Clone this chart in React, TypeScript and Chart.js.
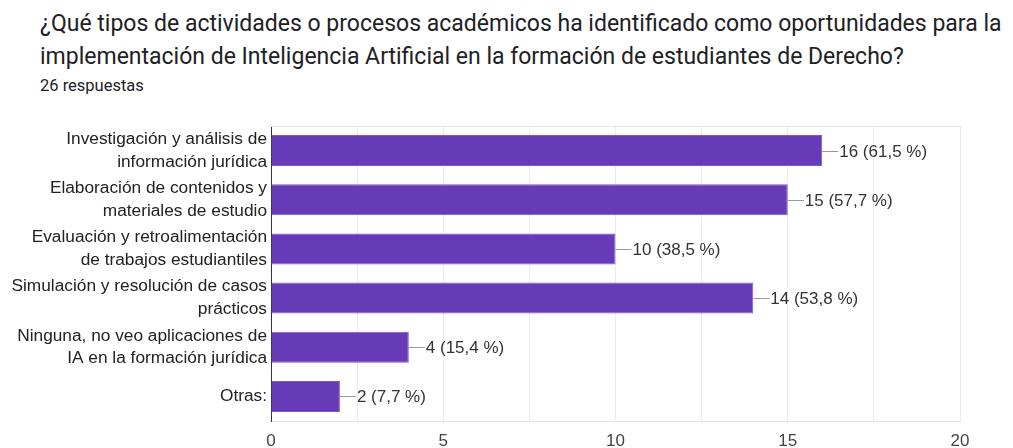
import React, { useEffect, useRef } from "react";
import { Chart, registerables } from "chart.js";

Chart.register(...registerables);

const titleLines = [
  "¿Qué tipos de actividades o procesos académicos ha identificado como oportunidades para la",
  "implementación de Inteligencia Artificial en la formación de estudiantes de Derecho?",
];
const titleTops = [7, 40];
const subtitle = "26 respuestas";

const categories: string[][] = [
  ["Investigación y análisis de", "información jurídica"],
  ["Elaboración de contenidos y", "materiales de estudio"],
  ["Evaluación y retroalimentación", "de trabajos estudiantiles"],
  ["Simulación y resolución de casos", "prácticos"],
  ["Ninguna, no veo aplicaciones de", "IA en la formación jurídica"],
  ["Otras:"],
];
const counts = [16, 15, 10, 14, 4, 2];
const percentLabels = ["61,5 %", "57,7 %", "38,5 %", "53,8 %", "15,4 %", "7,7 %"];
const xTickLabels = [0, 5, 10, 15, 20];

const FONT = "'Liberation Sans', Arial, sans-serif";

const valueLabelPlugin = {
  id: "valueLabels",
  beforeDatasetsDraw(chart: any) {
    const { ctx, chartArea } = chart;
    ctx.save();
    ctx.strokeStyle = "#e6e6e6";
    ctx.lineWidth = 1;
    ctx.beginPath();
    ctx.moveTo(chartArea.left, Math.round(chartArea.top) + 0.5);
    ctx.lineTo(chartArea.right, Math.round(chartArea.top) + 0.5);
    ctx.stroke();
    ctx.restore();
  },
  afterDatasetsDraw(chart: any) {
    const { ctx } = chart;
    const meta = chart.getDatasetMeta(0);
    ctx.save();
    ctx.font = `17px ${FONT}`;
    ctx.textBaseline = "middle";
    ctx.textAlign = "left";
    meta.data.forEach((bar: any, i: number) => {
      const x = bar.x;
      const y = Math.round(bar.y) + 0.5;
      ctx.strokeStyle = "#999999";
      ctx.lineWidth = 1;
      ctx.beginPath();
      ctx.moveTo(x, y);
      ctx.lineTo(x + 16, y);
      ctx.stroke();
      ctx.fillStyle = "#333333";
      ctx.fillText(`${counts[i]} (${percentLabels[i]})`, x + 17, y + 1);
    });
    ctx.restore();
  },
};

export default function App() {
  const canvasRef = useRef<HTMLCanvasElement | null>(null);

  useEffect(() => {
    if (!canvasRef.current) return;
    const chart = new Chart(canvasRef.current, {
      type: "bar",
      data: {
        labels: categories,
        datasets: [
          {
            data: counts,
            backgroundColor: "#673ab7",
            borderColor: "#7e57c2",
            borderWidth: 1,
            barPercentage: 0.63,
            categoryPercentage: 1,
          },
        ],
      },
      options: {
        indexAxis: "y",
        animation: false,
        responsive: false,
        maintainAspectRatio: false,
        layout: { padding: { top: 16, right: 53, left: 0, bottom: 0 } },
        plugins: {
          legend: { display: false },
          tooltip: { enabled: false },
        },
        scales: {
          x: {
            min: 0,
            max: 20,
            ticks: {
              stepSize: 2.5,
              padding: 10,
              color: "#444444",
              font: { family: FONT, size: 17 },
              callback: (v: any) =>
                xTickLabels.includes(Number(v)) ? String(v) : "",
              maxRotation: 0,
              autoSkip: false,
            },
            grid: {
              drawTicks: false,
              color: (c: any) =>
                c.tick && c.tick.value === 0 ? "#333333" : "#ebebeb",
            },
            border: { display: true, color: "#e6e6e6" },
            afterFit: (s: any) => {
              s.height = 27;
            },
          },
          y: {
            ticks: {
              padding: 4,
              color: "#222222",
              font: { family: FONT, size: 17.3, lineHeight: 1.32 },
              autoSkip: false,
            },
            grid: { display: false, drawTicks: false },
            border: { display: true, color: "#333333" },
            afterFit: (s: any) => {
              s.width = 271;
            },
          },
        },
      },
      plugins: [valueLabelPlugin],
    });
    return () => chart.destroy();
  }, []);

  return (
    <div
      style={{
        position: "fixed",
        left: 0,
        top: 0,
        width: 1013,
        height: 448,
        background: "#ffffff",
        overflow: "hidden",
      }}
    >
      {titleLines.map((t, i) => (
        <div
          key={i}
          style={{
            position: "absolute",
            left: 40,
            top: titleTops[i],
            height: 33,
            lineHeight: "33px",
            fontFamily: "Roboto, sans-serif",
            fontSize: 23,
            color: "#202124",
            whiteSpace: "nowrap",
          }}
        >
          {t}
        </div>
      ))}
      <div
        style={{
          position: "absolute",
          left: 40,
          top: 75,
          lineHeight: "22px",
          fontFamily: "Roboto, sans-serif",
          fontSize: 16.5,
          color: "#202124",
          whiteSpace: "nowrap",
        }}
      >
        {subtitle}
      </div>
      <canvas
        ref={canvasRef}
        width={1013}
        height={338}
        style={{ position: "absolute", left: 0, top: 110, width: 1013, height: 338 }}
      />
    </div>
  );
}
